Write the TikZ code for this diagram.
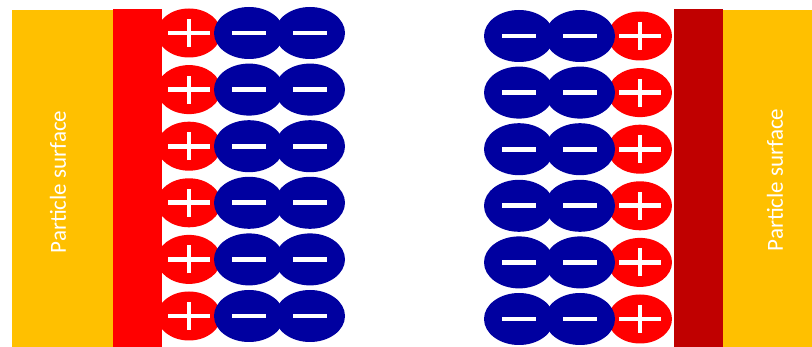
\documentclass[tikz,border=0pt]{standalone}
\usepackage{fontspec}
\setmainfont{Carlito}
\usetikzlibrary{shapes.geometric}
\definecolor{surfyellow}{HTML}{FFC000}
\definecolor{layerred}{HTML}{FF0000}
\definecolor{layerdark}{HTML}{C00000}
\definecolor{ionblue}{HTML}{0000A0}
\tikzset{
  posion/.style={ellipse, fill=layerred, minimum width=64pt, minimum height=49pt, inner sep=0pt},
  negion/.style={ellipse, fill=ionblue, minimum width=70pt, minimum height=52pt, inner sep=0pt},
  signbar/.style={draw=white, line width=4.8pt},
  surftext/.style={text=white, font=\fontsize{23}{25}\selectfont, rotate=90}
}
\begin{document}
\begin{tikzpicture}[x=1pt,y=-1pt]
\useasboundingbox (0,0) rectangle (812,347);
% left surface
\node[fill=surfyellow, minimum width=101pt, minimum height=337pt, inner sep=0pt, anchor=north west] (lsurf) at (12,10) {};
\node[surftext] (ltext) at (58,182) {Particle surface};
% right surface
\node[fill=surfyellow, minimum width=89pt, minimum height=337pt, inner sep=0pt, anchor=north west] (rsurf) at (723,10) {};
\node[surftext] (rtext) at (775,180) {Particle surface};
% ions left
\foreach \i in {0,...,5}{
  \pgfmathsetmacro{\yy}{33+56.6*\i}
  \node[posion] (lp\i) at (189,\yy) {};
  \node[negion] (la\i) at (249,\yy) {};
  \node[negion] (lb\i) at (310,\yy) {};
  \draw[signbar] ([xshift=-21pt]lp\i.center) -- ([xshift=21pt]lp\i.center);
  \draw[signbar] ([yshift=-14pt]lp\i.center) -- ([yshift=14pt]lp\i.center);
  \draw[signbar] ([xshift=-17pt]la\i.center) -- ([xshift=17pt]la\i.center);
  \draw[signbar] ([xshift=-17pt]lb\i.center) -- ([xshift=17pt]lb\i.center);
}
% ions right
\foreach \i in {0,...,5}{
  \pgfmathsetmacro{\yy}{36+56.6*\i}
  \node[posion] (rp\i) at (640,\yy) {};
  \node[negion] (ra\i) at (580,\yy) {};
  \node[negion] (rb\i) at (519,\yy) {};
  \draw[signbar] ([xshift=-21pt]rp\i.center) -- ([xshift=21pt]rp\i.center);
  \draw[signbar] ([yshift=-14pt]rp\i.center) -- ([yshift=14pt]rp\i.center);
  \draw[signbar] ([xshift=-17pt]ra\i.center) -- ([xshift=17pt]ra\i.center);
  \draw[signbar] ([xshift=-17pt]rb\i.center) -- ([xshift=17pt]rb\i.center);
}
% layers
\node[fill=layerred, minimum width=49pt, minimum height=338pt, inner sep=0pt, anchor=north west] (lred) at (113,9) {};
\node[fill=layerdark, minimum width=49pt, minimum height=338pt, inner sep=0pt, anchor=north west] (rred) at (674,9) {};
\end{tikzpicture}
\end{document}
